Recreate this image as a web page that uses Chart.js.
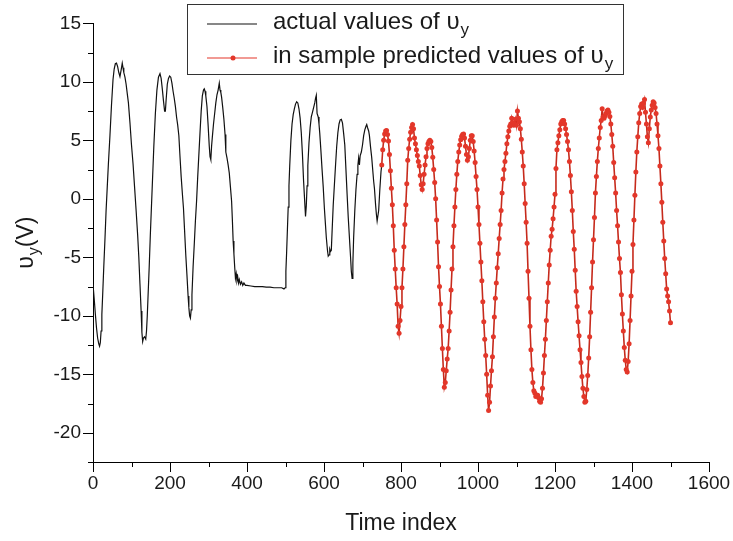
<!DOCTYPE html>
<html>
<head>
<meta charset="utf-8">
<script src="https://cdn.jsdelivr.net/npm/chart.js@4.4.1/dist/chart.umd.min.js"></script>
<style>
  html, body { margin: 0; padding: 0; background: #fff; }
  #wrap { position: relative; width: 733px; height: 541px; }
</style>
</head>
<body>
<div id="wrap"><canvas id="chart"></canvas></div>
<script>
// actual values (black)
const actualTime = [
  0, 3, 6, 9, 12, 15, 17, 19, 21, 23,
  25, 28, 31, 34, 37, 40, 44, 48, 52, 55,
  58, 61, 64, 67, 70, 73, 76, 78, 80, 83,
  86, 89, 92, 96, 100, 104, 108, 112, 116, 119,
  122, 125, 127, 129, 131, 134, 137, 139, 141, 143,
  146, 149, 152, 155, 158, 162, 166, 170, 174, 177,
  180, 183, 186, 188, 190, 193, 196, 199, 202, 205,
  208, 211, 214, 217, 220, 223, 226, 229, 232, 235,
  238, 241, 244, 247, 249, 251, 253, 255, 257, 260,
  263, 266, 269, 272, 275, 278, 281, 284, 287, 289,
  291, 293, 296, 299, 302, 304, 306, 308, 310, 313,
  316, 319, 322, 325, 328, 330, 332, 334, 337, 340,
  343, 345, 348, 351, 354, 357, 360, 362, 364, 366,
  368, 370, 372, 374, 376, 378, 380, 383, 386, 389,
  392, 396, 400, 410, 420, 430, 440, 450, 460, 470,
  480, 490, 496, 499, 501, 503, 505, 507, 509, 511,
  514, 517, 520, 523, 526, 529, 532, 535, 538, 541,
  544, 547, 550, 552, 554, 556, 558, 561, 564, 567,
  570, 573, 576, 578, 580, 582, 585, 587, 589, 592,
  595, 598, 601, 604, 606, 609, 611, 613, 615, 617,
  619, 621, 624, 627, 630, 633, 636, 639, 642, 645,
  648, 651, 654, 657, 660, 663, 666, 669, 671, 673,
  675, 677, 680, 683, 686, 688, 690, 692, 694, 697,
  700, 703, 706, 709, 711, 713, 716, 718, 721, 724,
  727, 729, 731, 734, 736, 738, 740, 742, 745, 748,
  750
];
const actualValue = [
  -7.3, -8.5, -9.8, -11.0, -11.9, -12.4, -12.6, -12.3, -11.3, -9.9,
  -8.3, -5.8, -3.5, -1.0, 1.0, 3.0, 5.4, 8.0, 10.2, 11.1,
  11.55, 11.6, 11.3, 10.8, 10.45, 11.0, 11.6, 11.2, 10.8, 10.4,
  9.8, 9.0, 8.2, 6.5, 4.6, 3.0, 1.0, -1.0, -3.1, -5.0,
  -7.3, -9.6, -11.4, -12.2, -11.9, -11.8, -12.0, -11.3, -10.0, -8.3,
  -5.8, -3.0, -0.5, 2.0, 4.5, 7.3, 9.3, 10.4, 10.7, 10.3,
  9.4, 8.4, 7.5, 7.5, 8.5, 9.8, 10.3, 10.5, 10.4, 9.9,
  9.2, 8.6, 7.9, 7.0, 6.3, 5.4, 3.6, 1.9, 0.5, -0.8,
  -2.8, -4.8, -6.5, -8.3, -9.3, -10.0, -10.2, -9.5, -8.2, -5.8,
  -3.9, -1.9, -0.2, 1.9, 3.8, 5.7, 7.5, 8.8, 9.3, 9.4,
  9.2, 8.8, 7.9, 6.3, 4.5, 3.6, 3.35, 4.5, 5.3, 6.4,
  7.3, 8.2, 8.9, 9.3, 9.9, 9.3, 9.1, 8.7, 7.8, 6.8,
  5.5, 4.0, 3.5, 2.9, 2.2, 1.0, -0.2, -1.8, -3.6, -4.7,
  -5.8, -6.8, -6.4, -7.0, -6.7, -7.2, -6.9, -7.3, -7.1, -7.4,
  -7.2, -7.4, -7.4, -7.45, -7.5, -7.5, -7.5, -7.55, -7.55, -7.6,
  -7.6, -7.6, -7.7, -7.6, -6.2, -4.5, -2.6, -0.7, 1.1, 2.85,
  5.0, 6.4, 7.2, 7.7, 8.1, 8.3, 8.2, 7.7, 6.9, 5.65,
  3.8, 1.5, -0.3, -1.5, -0.6, 1.1, 2.85, 4.8, 6.1, 7.0,
  7.4, 7.8, 8.2, 8.6, 8.85, 7.3, 7.0, 6.4, 5.6, 4.1,
  2.5, 1.0, -0.8, -2.3, -3.3, -4.4, -4.9, -4.8, -4.3, -4.5,
  -4.4, -2.8, -0.5, 1.2, 2.9, 4.5, 5.65, 6.4, 6.75, 6.8,
  6.5, 5.6, 4.6, 2.5, 0.4, -1.6, -3.3, -5.0, -6.2, -6.8,
  -5.5, -3.3, -1.0, 0.8, 2.1, 2.85, 3.5, 2.9, 3.7, 4.0,
  4.6, 5.4, 5.9, 6.2, 6.35, 6.1, 5.8, 5.4, 4.4, 3.5,
  2.3, 1.5, 0.9, -0.5, -1.3, -1.9, -1.9, -1.0, 0.8, 2.3,
  2.9
];

// in sample predicted values (red), one reading every 2.5 time steps from 750
const predStart = 750;
const predStep = 2.5;
const predValue = [
  2.9, 4.2, 5.0, 5.55, 5.8, 5.85, 5.5, 4.95, 3.8, 2.4,
  0.9, -0.5, -2.3, -4.4, -6.0, -7.6, -9.0, -10.9, -11.5, -10.4,
  -9.2, -7.6, -6.0, -4.1, -2.2, -0.5, 1.3, 3.3, 4.3, 5.1,
  5.7, 6.1, 6.35, 6.0, 5.2, 4.7, 4.2, 3.7, 3.2, 2.8,
  2.0, 1.2, 0.8, 1.3, 2.1, 2.9, 3.6, 4.3, 4.7, 4.9,
  5.0, 4.9, 4.4, 3.55, 2.5, 1.4, 0.0, -1.8, -3.7, -5.8,
  -7.5, -9.0, -10.9, -12.8, -14.6, -16.1, -15.7, -14.7, -13.7, -12.8,
  -11.3, -9.7, -7.8, -6.0, -4.1, -2.3, -0.7, 0.8, 2.1, 3.2,
  4.0, 4.6, 5.05, 5.35, 5.5, 5.55, 5.2, 4.5, 3.8, 3.3,
  3.6, 4.3, 5.0, 5.4, 5.4, 4.9, 4.1, 3.1, 1.9, 0.8,
  -0.7, -2.2, -3.8, -5.4, -7.0, -8.8, -10.5, -12.0, -13.4, -15.0,
  -16.8, -18.1, -17.4, -16.0, -14.7, -13.5, -11.8, -10.1, -8.5, -7.2,
  -5.9, -4.7, -3.4, -2.2, -1.0, 0.5, 1.7, 2.5, 3.2, 3.9,
  4.7, 5.3, 5.8, 6.2, 6.4, 6.9, 6.5, 6.3, 6.4, 6.8,
  6.3, 7.5, 6.9, 6.6, 6.0, 5.1, 4.0, 2.8, 1.3, -0.4,
  -2.0, -3.8, -6.2, -8.5, -10.9, -12.9, -14.6, -15.7, -16.4, -16.6,
  -16.9, -16.8, -16.8, -17.0, -17.3, -17.4, -17.1, -16.2, -14.9, -13.4,
  -12.0, -10.4, -8.8, -7.2, -5.65, -4.4, -3.2, -2.6, -1.7, -0.7,
  0.4, 2.6, 4.2, 4.8, 5.4, 5.9, 6.4, 6.6, 6.7, 6.7,
  6.4, 6.0, 5.5, 4.9, 4.2, 3.2, 2.0, 0.6, -1.0, -2.8,
  -4.3, -6.1, -7.9, -9.2, -10.5, -11.7, -12.9, -14.0, -15.2, -16.2,
  -16.9, -17.4, -17.3, -16.3, -15.1, -13.6, -11.8, -9.7, -7.6, -5.4,
  -3.5, -1.6, 0.5, 1.9, 3.2, 4.3, 5.2, 6.1, 6.7, 7.7,
  7.0, 6.9, 7.1, 7.3, 7.5, 7.6, 7.4, 7.05, 6.4, 5.5,
  4.5, 3.1, 1.8, 0.5, -1.0, -2.3, -3.7, -5.1, -6.3, -8.2,
  -9.85, -11.3, -12.7, -13.8, -14.6, -14.8, -13.9, -12.4, -10.4, -8.3,
  -6.2, -3.9, -1.8, 0.3, 2.3, 4.0, 5.3, 6.5, 7.3, 7.9,
  8.1, 7.8, 8.2, 8.5, 7.4, 6.4, 5.3, 4.8, 6.0, 7.0,
  7.6, 8.0, 8.3, 8.2, 7.8, 7.3, 6.4, 5.4, 4.3, 2.8,
  1.3, -0.3, -2.0, -3.6, -5.1, -6.4, -7.7, -8.3, -8.8, -9.6,
  -10.6
];

// axis ticks
const xTicksMajor = [0, 200, 400, 600, 800, 1000, 1200, 1400, 1600];
const xTicksMinor = [100, 300, 500, 700, 900, 1100, 1300, 1500];
const yTicksMajor = [-20, -15, -10, -5, 0, 5, 10, 15];
const yTicksMinor = [-22.5, -17.5, -12.5, -7.5, -2.5, 2.5, 7.5, 12.5];

const legendLabels = ['actual values of \u03c5', 'in sample predicted values of \u03c5'];
const xTitle = 'Time index';

const FONT = '"Liberation Sans", Arial, Helvetica, sans-serif';
const TEXT = '#1a1a1a';

const actualPoints = actualTime.map((t, i) => ({ x: t, y: actualValue[i] }));
const predPoints = predValue.map((v, i) => ({ x: predStart + i * predStep, y: v }));

// text with a subscript "y" after it
function subText(ctx, x, base, main, size, subSize) {
    ctx.font = size + 'px ' + FONT;
    ctx.fillText(main, x, base);
    const w = ctx.measureText(main).width;
    ctx.font = subSize + 'px ' + FONT;
    ctx.fillText('y', x + w + 1, base + 6);
    return w + 1 + ctx.measureText('y').width;
}

const decor = {
    id: 'decor',
    afterDraw(chart) {
        const ctx = chart.ctx;
        const xs = chart.scales.x;
        const ys = chart.scales.y;
        const area = chart.chartArea;
        ctx.save();

        // outward tick marks, major and minor
        ctx.strokeStyle = '#000';
        ctx.lineWidth = 1;
        ctx.beginPath();
        xTicksMajor.forEach(v => {
            const p = Math.round(xs.getPixelForValue(v)) + 0.5;
            ctx.moveTo(p, area.bottom); ctx.lineTo(p, area.bottom + 10);
        });
        xTicksMinor.forEach(v => {
            const p = Math.round(xs.getPixelForValue(v)) + 0.5;
            ctx.moveTo(p, area.bottom); ctx.lineTo(p, area.bottom + 5);
        });
        yTicksMajor.forEach(v => {
            const p = Math.round(ys.getPixelForValue(v)) + 0.5;
            ctx.moveTo(area.left, p); ctx.lineTo(area.left - 10, p);
        });
        yTicksMinor.forEach(v => {
            const p = Math.round(ys.getPixelForValue(v)) + 0.5;
            ctx.moveTo(area.left, p); ctx.lineTo(area.left - 5, p);
        });
        ctx.stroke();

        // y axis title: υ_y(V), rotated
        ctx.fillStyle = TEXT;
        ctx.textBaseline = 'alphabetic';
        ctx.textAlign = 'left';
        ctx.save();
        ctx.translate(33, (area.top + area.bottom) / 2);
        ctx.rotate(-Math.PI / 2);
        ctx.font = '23px ' + FONT;
        const w1 = ctx.measureText('\u03c5').width;
        const w3 = ctx.measureText('(V)').width;
        ctx.font = '16px ' + FONT;
        const w2 = ctx.measureText('y').width + 1;
        let tx = -(w1 + w2 + w3) / 2;
        tx += subText(ctx, tx, 0, '\u03c5', 23, 16);
        ctx.font = '23px ' + FONT;
        ctx.fillText('(V)', tx, 0);
        ctx.restore();

        // legend box
        const bx = 187, by = 4, bw = 436, bh = 70;
        ctx.fillStyle = '#fff';
        ctx.fillRect(bx, by, bw, bh);
        ctx.strokeStyle = '#333';
        ctx.lineWidth = 1;
        ctx.strokeRect(bx + 0.5, by + 0.5, bw, bh);

        ctx.lineWidth = 1.2;
        ctx.strokeStyle = '#111';
        ctx.beginPath(); ctx.moveTo(207, 24); ctx.lineTo(257, 24); ctx.stroke();
        ctx.strokeStyle = '#e3372a';
        ctx.beginPath(); ctx.moveTo(207, 58); ctx.lineTo(257, 58); ctx.stroke();
        ctx.fillStyle = '#e3372a';
        ctx.beginPath(); ctx.arc(233, 58, 2.5, 0, Math.PI * 2); ctx.fill();

        ctx.fillStyle = TEXT;
        subText(ctx, 273, 29, legendLabels[0], 24, 17);
        subText(ctx, 273, 63, legendLabels[1], 24, 17);

        ctx.restore();
    }
};

new Chart(document.getElementById('chart'), {
    type: 'line',
    data: {
        datasets: [
            {
                label: legendLabels[1],
                data: predPoints,
                borderColor: '#c62a1c',
                borderWidth: 1.6,
                pointRadius: 2.5,
                pointBackgroundColor: '#e3372a',
                pointBorderWidth: 0,
                order: 0
            },
            {
                label: legendLabels[0],
                data: actualPoints,
                borderColor: '#111',
                borderWidth: 1.2,
                pointRadius: 0,
                order: 1
            }
        ]
    },
    options: {
        responsive: true,
        maintainAspectRatio: false,
        animation: false,
        layout: { padding: { top: 15, right: 0, left: 0, bottom: 0 } },
        plugins: {
            legend: { display: false },
            tooltip: { enabled: false }
        },
        scales: {
            x: {
                type: 'linear',
                min: 0,
                max: 1600,
                afterFit: s => { s.height = 79; s.paddingRight = 24; },
                ticks: {
                    stepSize: 200,
                    autoSkip: false,
                    maxRotation: 0,
                    padding: 10,
                    color: TEXT,
                    font: { family: FONT, size: 19 },
                    callback: v => String(v)
                },
                grid: { drawOnChartArea: false, drawTicks: false },
                border: { color: '#000', width: 1 },
                title: {
                    display: true,
                    text: xTitle,
                    color: TEXT,
                    font: { family: FONT, size: 23 },
                    padding: { top: 0, bottom: 4 }
                }
            },
            y: {
                min: -22.5,
                max: 15,
                afterFit: s => { s.width = 93; },
                afterBuildTicks: s => { s.ticks = s.ticks.filter(t => t.value % 5 === 0); },
                ticks: {
                    stepSize: 5,
                    padding: 12,
                    color: TEXT,
                    font: { family: FONT, size: 19 }
                },
                grid: { drawOnChartArea: false, drawTicks: false },
                border: { color: '#000', width: 1 }
            }
        }
    },
    plugins: [decor]
});
</script>
</body>
</html>
